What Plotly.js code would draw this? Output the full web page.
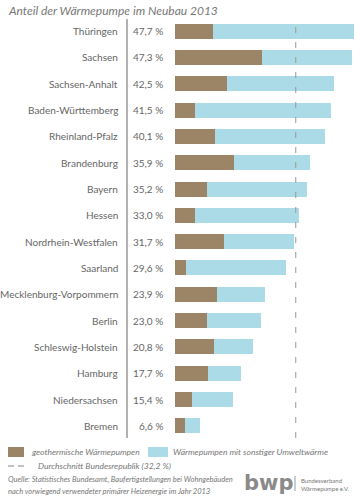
<!DOCTYPE html>
<html><head><meta charset="utf-8">
<script src="https://cdn.plot.ly/plotly-3.0.1.min.js"></script>
<style>html,body{margin:0;padding:0;background:#fff}#c{width:356px;height:500px}</style>
</head><body><div id="c"></div>
<script>
const states = ["Thüringen","Sachsen","Sachsen-Anhalt","Baden-Württemberg","Rheinland-Pfalz","Brandenburg","Bayern","Hessen","Nordrhein-Westfalen","Saarland","Mecklenburg-Vorpommern","Berlin","Schleswig-Holstein","Hamburg","Niedersachsen","Bremen"];
const totals = [47.7,47.3,42.5,41.5,40.1,35.9,35.2,33.0,31.7,29.6,23.9,23.0,20.8,17.7,15.4,6.6];
const geothermal = [10.1,23.3,13.9,5.3,10.7,15.8,8.4,5.3,13.0,2.9,11.1,8.4,10.5,8.8,4.5,2.7];
const nationalAverage = 32.2;
const seriesNames = ["geothermische Wärmepumpen","Wärmepumpen mit sonstiger Umweltwärme"];
const avgLabel = "Durchschnitt Bundesrepublik (32,2 %)";
const titleText = "Anteil der Wärmepumpe im Neubau 2013";
const sourceLines = ["Quelle: Statistisches Bundesamt, Baufertigstellungen bei Wohngebäuden","nach vorwiegend verwendeter primärer Heizenergie im Jahr 2013"];

const other = totals.map((t,i)=>+(t-geothermal[i]).toFixed(1));
const BROWN = "#9c8466", BLUE = "#abdbe6", GRAY = "#777";
const W=356, L=175, T=18, B=61, H=500;
const plotW = W-L, plotH = H-T-B;
const px = x => (x-L)/plotW;
const py = y => (H-B-y)/plotH;
const FONT = "Lato, 'Open Sans', sans-serif";

const traces = [
  {type:"bar", orientation:"h", y:states, x:geothermal, name:seriesNames[0], marker:{color:BROWN}, hoverinfo:"none", showlegend:false},
  {type:"bar", orientation:"h", y:states, x:other, name:seriesNames[1], marker:{color:BLUE}, hoverinfo:"none", showlegend:false}
];

const annotations = [];
states.forEach((s,i)=>{
  annotations.push({xref:"paper", yref:"y", x:px(120), y:s, text:s, showarrow:false, xanchor:"right", yanchor:"middle", font:{family:FONT,size:10,color:"#666"}});
  annotations.push({xref:"paper", yref:"y", x:px(165), y:s, text:totals[i].toFixed(1).replace(".",",")+" %", showarrow:false, xanchor:"right", yanchor:"middle", font:{family:FONT,size:10,color:"#666"}});
});
annotations.push({xref:"paper", yref:"paper", x:px(6), y:py(11), text:"<i>"+titleText+"</i>", showarrow:false, xanchor:"left", yanchor:"middle", font:{family:FONT,size:12,color:GRAY}});
annotations.push({xref:"paper", yref:"paper", x:px(29), y:py(452), text:"<i>"+seriesNames[0]+"</i>", showarrow:false, xanchor:"left", yanchor:"middle", font:{family:FONT,size:8.5,color:GRAY}});
annotations.push({xref:"paper", yref:"paper", x:px(171), y:py(452), text:"<i>"+seriesNames[1]+"</i>", showarrow:false, xanchor:"left", yanchor:"middle", font:{family:FONT,size:8.5,color:GRAY}});
annotations.push({xref:"paper", yref:"paper", x:px(36), y:py(466), text:"<i>"+avgLabel+"</i>", showarrow:false, xanchor:"left", yanchor:"middle", font:{family:FONT,size:8.5,color:GRAY}});
annotations.push({xref:"paper", yref:"paper", x:px(6), y:py(479), text:"<i>"+sourceLines[0]+"</i>", showarrow:false, xanchor:"left", yanchor:"middle", font:{family:FONT,size:7.5,color:GRAY}});
annotations.push({xref:"paper", yref:"paper", x:px(6), y:py(491), text:"<i>"+sourceLines[1]+"</i>", showarrow:false, xanchor:"left", yanchor:"middle", font:{family:FONT,size:7.5,color:GRAY}});
annotations.push({xref:"paper", yref:"paper", x:px(268), y:py(483), text:"<b>bwp</b>", showarrow:false, xanchor:"center", yanchor:"middle", font:{family:"'DejaVu Sans', sans-serif",size:21,color:"#8a8a8a"}});
annotations.push({xref:"paper", yref:"paper", x:px(299), y:py(480), text:"Bundesverband", showarrow:false, xanchor:"left", yanchor:"middle", font:{family:FONT,size:6,color:GRAY}});
annotations.push({xref:"paper", yref:"paper", x:px(299), y:py(488), text:"Wärmepumpe e.V.", showarrow:false, xanchor:"left", yanchor:"middle", font:{family:FONT,size:6,color:GRAY}});

const shapes = [
  {type:"line", xref:"paper", yref:"paper", x0:px(127), x1:px(127), y0:py(438), y1:py(19), line:{color:"#999", width:1.5}},
  {type:"line", xref:"x", yref:"paper", x0:nationalAverage, x1:nationalAverage, y0:py(438), y1:py(19), line:{color:"#999", width:1, dash:"6px,9px"}},
  {type:"rect", xref:"paper", yref:"paper", x0:px(8), x1:px(24), y0:py(457), y1:py(447), fillcolor:BROWN, line:{width:0}},
  {type:"rect", xref:"paper", yref:"paper", x0:px(148), x1:px(168), y0:py(457), y1:py(447), fillcolor:BLUE, line:{width:0}},
  {type:"line", xref:"paper", yref:"paper", x0:px(8), x1:px(25), y0:py(466), y1:py(466), line:{color:"#888", width:1.2, dash:"6px,4px"}},
  {type:"line", xref:"paper", yref:"paper", x0:px(295), x1:px(295), y0:py(476), y1:py(491), line:{color:"#999", width:1}}
];

const layout = {
  width:W, height:H, margin:{l:L, r:0, t:T, b:B, pad:0},
  paper_bgcolor:"#fff", plot_bgcolor:"#fff",
  barmode:"stack", bargap:0.43, showlegend:false,
  xaxis:{range:[0, plotW/3.75], visible:false, fixedrange:true},
  yaxis:{type:"category", categoryorder:"array", categoryarray:states, range:[15.5,-0.5], showticklabels:false, showgrid:false, zeroline:false, showline:false, ticks:"", fixedrange:true},
  annotations, shapes
};
Plotly.newPlot("c", traces, layout, {staticPlot:true, displayModeBar:false});
</script></body></html>
